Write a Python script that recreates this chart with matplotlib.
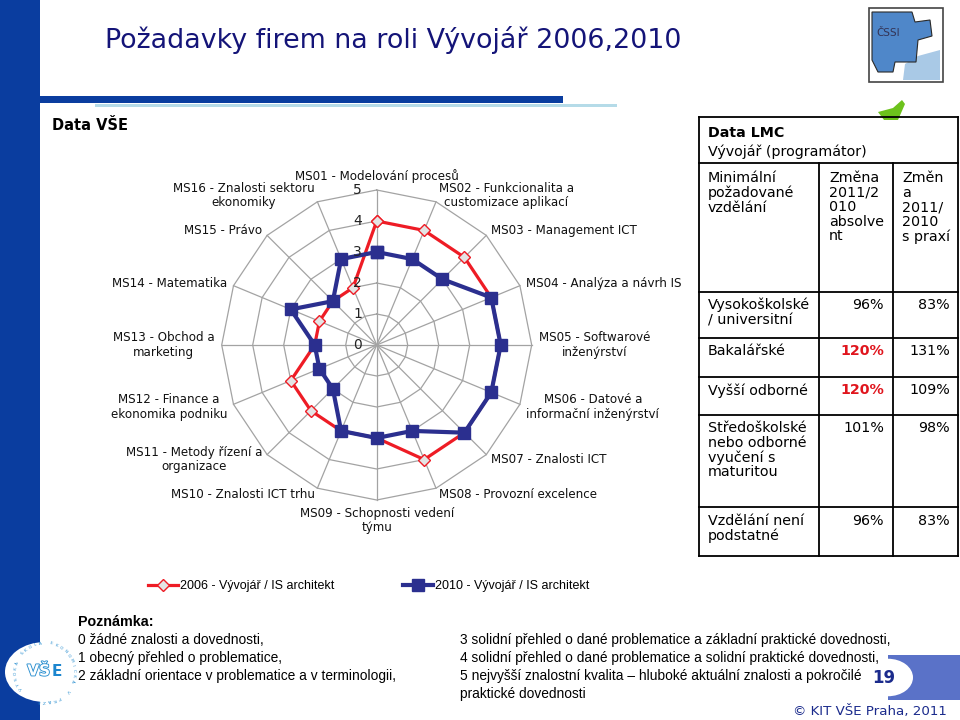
import numpy as np
import matplotlib
matplotlib.use("Agg")
import matplotlib.pyplot as plt
import matplotlib.patheffects as pe
from matplotlib.patches import Rectangle, Circle, Polygon
from matplotlib.lines import Line2D

# ---------------- data ----------------
title = "Požadavky firem na roli Vývojář 2006,2010"
categories = [
    "MS01 - Modelování procesů",
    "MS02 - Funkcionalita a\ncustomizace aplikací",
    "MS03 - Management ICT",
    "MS04 - Analýza a návrh IS",
    "MS05 - Softwarové\ninženýrství",
    "MS06 - Datové a\ninformační inženýrství",
    "MS07 - Znalosti ICT",
    "MS08 - Provozní excelence",
    "MS09 - Schopnosti vedení\ntýmu",
    "MS10 - Znalosti ICT trhu",
    "MS11 - Metody řízení a\norganizace",
    "MS12 - Finance a\nekonomika podniku",
    "MS13 - Obchod a\nmarketing",
    "MS14 - Matematika",
    "MS15 - Právo",
    "MS16 - Znalosti sektoru\nekonomiky",
]
values_2006 = [4, 4, 4, 4, 4, 4, 4, 4, 3, 3, 3, 3, 2, 2, 2, 2]
values_2010 = [3, 3, 3, 4, 4, 4, 4, 3, 3, 3, 2, 2, 2, 3, 2, 3]
series_labels = ["2006 - Vývojář / IS architekt", "2010 - Vývojář / IS architekt"]
scale_ticks = [0, 1, 2, 3, 4, 5]

table_title = "Data LMC"
table_subtitle = "Vývojář (programátor)"
table_headers = ["Minimální\npožadované\nvzdělání", "Změna\n2011/2\n010\nabsolve\nnt", "Změn\na\n2011/\n2010\ns praxí"]
edu_levels = ["Vysokoškolské\n/ universitní", "Bakalářské", "Vyšší odborné",
              "Středoškolské\nnebo odborné\nvyučení s\nmaturitou", "Vzdělání není\npodstatné"]
change_graduate = ["96%", "120%", "120%", "101%", "96%"]
change_experience = ["83%", "131%", "109%", "98%", "83%"]
highlight_graduate = [False, True, True, False, False]

note_title = "Poznámka:"
notes_left = ["0 žádné znalosti a dovednosti,",
              "1 obecný přehled o problematice,",
              "2 základní orientace v problematice a v terminologii,"]
notes_right = ["3 solidní přehled o dané problematice a základní praktické dovednosti,",
               "4 solidní přehled o dané problematice a solidní praktické dovednosti,",
               "5 nejvyšší znalostní kvalita – hluboké aktuální znalosti a pokročilé",
               "praktické dovednosti"]

# ---------------- helpers ----------------
W, H = 960, 720
fig = plt.figure(figsize=(9.6, 7.2), dpi=100)
fig.patch.set_facecolor("white")

def fx(x):
    return x / W

def fy(y):
    return 1 - y / H

def rect(x0, y0, x1, y1, **kw):
    r = Rectangle((fx(x0), fy(y1)), (x1 - x0) / W, (y1 - y0) / H,
                  transform=fig.transFigure, **kw)
    fig.add_artist(r)
    return r

def line(x0, y0, x1, y1, **kw):
    l = Line2D([fx(x0), fx(x1)], [fy(y0), fy(y1)], transform=fig.transFigure, **kw)
    fig.add_artist(l)

def txt(x, y, s, **kw):
    return fig.text(fx(x), fy(y), s, **kw)

NAVY = "#141478"
BAR = "#0a3d9f"
RED = "#ee1c25"
BLUE = "#2b2f8f"
NARROW = ["Liberation Sans", "DejaVu Sans"]

# ---------------- slide decoration ----------------
rect(0, 0, 40, 720, facecolor=BAR, edgecolor="none", zorder=0)
rect(40, 95.5, 563, 102.5, facecolor=BAR, edgecolor="none")
rect(95, 104, 617, 107, facecolor="#b5dbe8", edgecolor="none")
txt(105, 40, title, fontsize=19.4, color=NAVY, va="center", ha="left")

# CSSI logo
rect(869, 8, 943, 82, facecolor="white", edgecolor="#444444", linewidth=1.2, zorder=2)
logo_dark = Polygon([(fx(872), fy(12)), (fx(912), fy(12)), (fx(915), fy(22)), (fx(930), fy(20)),
                     (fx(932), fy(36)), (fx(918), fy(40)), (fx(916), fy(62)), (fx(895), fy(62)),
                     (fx(893), fy(72)), (fx(878), fy(72)), (fx(872), fy(60))],
                    closed=True, transform=fig.transFigure, facecolor="#4f87c9",
                    edgecolor="#2a2a2a", linewidth=0.8, zorder=3)
logo_light = Polygon([(fx(905), fy(64)), (fx(918), fy(56)), (fx(940), fy(50)), (fx(940), fy(80)),
                      (fx(903), fy(80))], closed=True, transform=fig.transFigure,
                     facecolor="#a9c9e6", edgecolor="none", zorder=2.5)
fig.add_artist(logo_light)
fig.add_artist(logo_dark)
txt(888, 33, "ČSSI", fontsize=7.5, color="#333355", va="center", ha="center", zorder=4)

# small green arrow
fig.add_artist(Polygon([(fx(878), fy(112)), (fx(893), fy(108)), (fx(902), fy(100)),
                        (fx(905), fy(104)), (fx(898), fy(120)), (fx(884), fy(120))],
                       closed=True, transform=fig.transFigure, facecolor="#6cc21c",
                       edgecolor="none", zorder=1))

txt(52, 125, "Data VŠE", fontsize=10.5, fontweight="bold", va="center", ha="left")

# ---------------- radar chart ----------------
cx, cy, R = 376.7, 345, 155
ax = fig.add_axes([fx(cx - R), fy(cy + R), 2 * R / W, 2 * R / H], projection="polar")
ax.set_theta_zero_location("N")
ax.set_theta_direction(-1)
ax.set_ylim(0, scale_ticks[-1])
ax.grid(False)
ax.set_xticks([])
ax.set_yticks([])
ax.spines["polar"].set_visible(False)
ax.patch.set_alpha(0)

n = len(categories)
angles = np.arange(n) * 2 * np.pi / n
closed_angles = np.append(angles, angles[0])
for r in scale_ticks[1:]:
    ax.plot(closed_angles, [r] * (n + 1), color="#a3a3a3", lw=0.9, zorder=1, clip_on=False)
for a in angles:
    ax.plot([a, a], [0, scale_ticks[-1]], color="#a3a3a3", lw=0.9, zorder=1, clip_on=False)

v06 = np.append(values_2006, values_2006[0])
v10 = np.append(values_2010, values_2010[0])
red_line, = ax.plot(closed_angles, v06, color=RED, lw=2.3, marker="D", ms=6.5,
                    mfc="#e4e4e4", mec=RED, mew=1.0, zorder=3, clip_on=False)
blue_line, = ax.plot(closed_angles, v10, color=BLUE, lw=3.0, marker="s", ms=9,
                     mfc=BLUE, mec=BLUE, zorder=4, clip_on=False)

for v in scale_ticks:
    ax.annotate(str(v), xy=(0, v), xytext=(-19, 0), textcoords="offset pixels",
                ha="center", va="center", fontsize=10, color="#222222", zorder=5)

for a, lab in zip(angles, categories):
    s, c = np.sin(a), np.cos(a)
    ha = "left" if s > 0.05 else ("right" if s < -0.05 else "center")
    if c > 0.95:
        va = "bottom"
    elif c < -0.95:
        va = "top"
    else:
        va = "center"
    ax.annotate(lab, xy=(a, scale_ticks[-1]), xytext=(7 * s, 7 * c),
                textcoords="offset pixels", ha=ha, va=va, multialignment="center",
                fontsize=8.6, color="#111111", linespacing=1.15, annotation_clip=False)

# legend (two entries placed separately)
for handle, label, x0 in [(red_line, series_labels[0], 148), (blue_line, series_labels[1], 403)]:
    fig.legend([handle], [label], loc="center left",
               bbox_to_anchor=(fx(x0), fy(586)), frameon=False,
               handlelength=2.4, handletextpad=0.15, borderaxespad=0, borderpad=0,
               prop={"family": NARROW, "size": 9})

# ---------------- table ----------------
ys = [117, 163, 292, 338, 377, 415, 507, 556]
xs = [699, 819, 893, 958]
lw = 1.3
for y in ys:
    line(xs[0], y, xs[-1], y, color="black", lw=lw)
line(xs[0], ys[0], xs[0], ys[-1], color="black", lw=lw)
line(xs[-1], ys[0], xs[-1], ys[-1], color="black", lw=lw)
for x in xs[1:-1]:
    line(x, ys[1], x, ys[-1], color="black", lw=lw)

TFS = 10.3
txt(708, 133, table_title, fontsize=TFS, fontweight="bold", va="center", ha="left")
txt(708, 152, table_subtitle, fontsize=TFS, va="center", ha="left")
txt(708, 171, table_headers[0], fontsize=TFS, va="top", ha="left", linespacing=1.05)
txt(829, 171, table_headers[1], fontsize=TFS, va="top", ha="left", linespacing=1.05)
txt(902, 171, table_headers[2], fontsize=TFS, va="top", ha="left", linespacing=1.05)
row_tops = [298, 344, 383, 421, 514]
for i, top in enumerate(row_tops):
    txt(708, top, edu_levels[i], fontsize=TFS, va="top", ha="left", linespacing=1.05)
    if highlight_graduate[i]:
        txt(884, top, change_graduate[i], fontsize=TFS, va="top", ha="right",
            color="#e0151d", fontweight="bold")
    else:
        txt(884, top, change_graduate[i], fontsize=TFS, va="top", ha="right")
    txt(950, top, change_experience[i], fontsize=TFS, va="top", ha="right")

# ---------------- notes ----------------
NFS = 9.9
txt(78, 622, note_title, fontsize=NFS + 0.4, fontweight="bold", family=NARROW, va="center", ha="left")
for i, s in enumerate(notes_left):
    txt(78, 640 + 18 * i, s, fontsize=NFS, family=NARROW, va="center", ha="left")
for i, s in enumerate(notes_right):
    txt(460, 640 + 18 * i, s, fontsize=NFS, family=NARROW, va="center", ha="left")

# ---------------- bottom decorations ----------------
# VSE logo
fig.add_artist(Circle((fx(45), fy(672)), 40 / W, transform=fig.transFigure,
                      facecolor="white", edgecolor="none", zorder=2))
logo_ax = fig.add_axes([fx(5), fy(712), 80 / W, 80 / H])
logo_ax.set_zorder(5)
logo_ax.set_xlim(-40, 40)
logo_ax.set_ylim(-40, 40)
logo_ax.axis("off")
logo_ax.patch.set_alpha(0)
logo_ax.text(5, 1, "VŠ", fontsize=11, fontweight="bold", color="white", ha="right", va="center",
             path_effects=[pe.withStroke(linewidth=1.3, foreground="#2a8fd0")])
logo_ax.text(6.5, 1, "E", fontsize=11, fontweight="bold", color="#1c86cf", ha="left", va="center")
ring_text = "VYSOKÁ ŠKOLA EKONOMICKÁ V PRAZE"
for k, ch in enumerate(ring_text):
    ang = np.deg2rad(215 - k * 360 / (len(ring_text) + 3))
    logo_ax.text(29 * np.cos(ang), 29 * np.sin(ang), ch, fontsize=3.2, color="#2a8fd0",
                 ha="center", va="center", rotation=np.rad2deg(ang) - 90)

# page number shape
rect(888, 655, 960, 700, facecolor="#5a72c8", edgecolor="none", zorder=1)
fig.add_artist(Circle((fx(888), fy(677.5)), 25 / W, transform=fig.transFigure,
                      facecolor="white", edgecolor="none", zorder=1.5))
txt(884, 678, "19", fontsize=12, fontweight="bold", color="#1b2b8c", va="center", ha="center", zorder=3)
txt(793, 711, "© KIT VŠE Praha, 2011", fontsize=9.6, color="#1b2b8c", va="center", ha="left")

fig.savefig("out.png", dpi=100)
